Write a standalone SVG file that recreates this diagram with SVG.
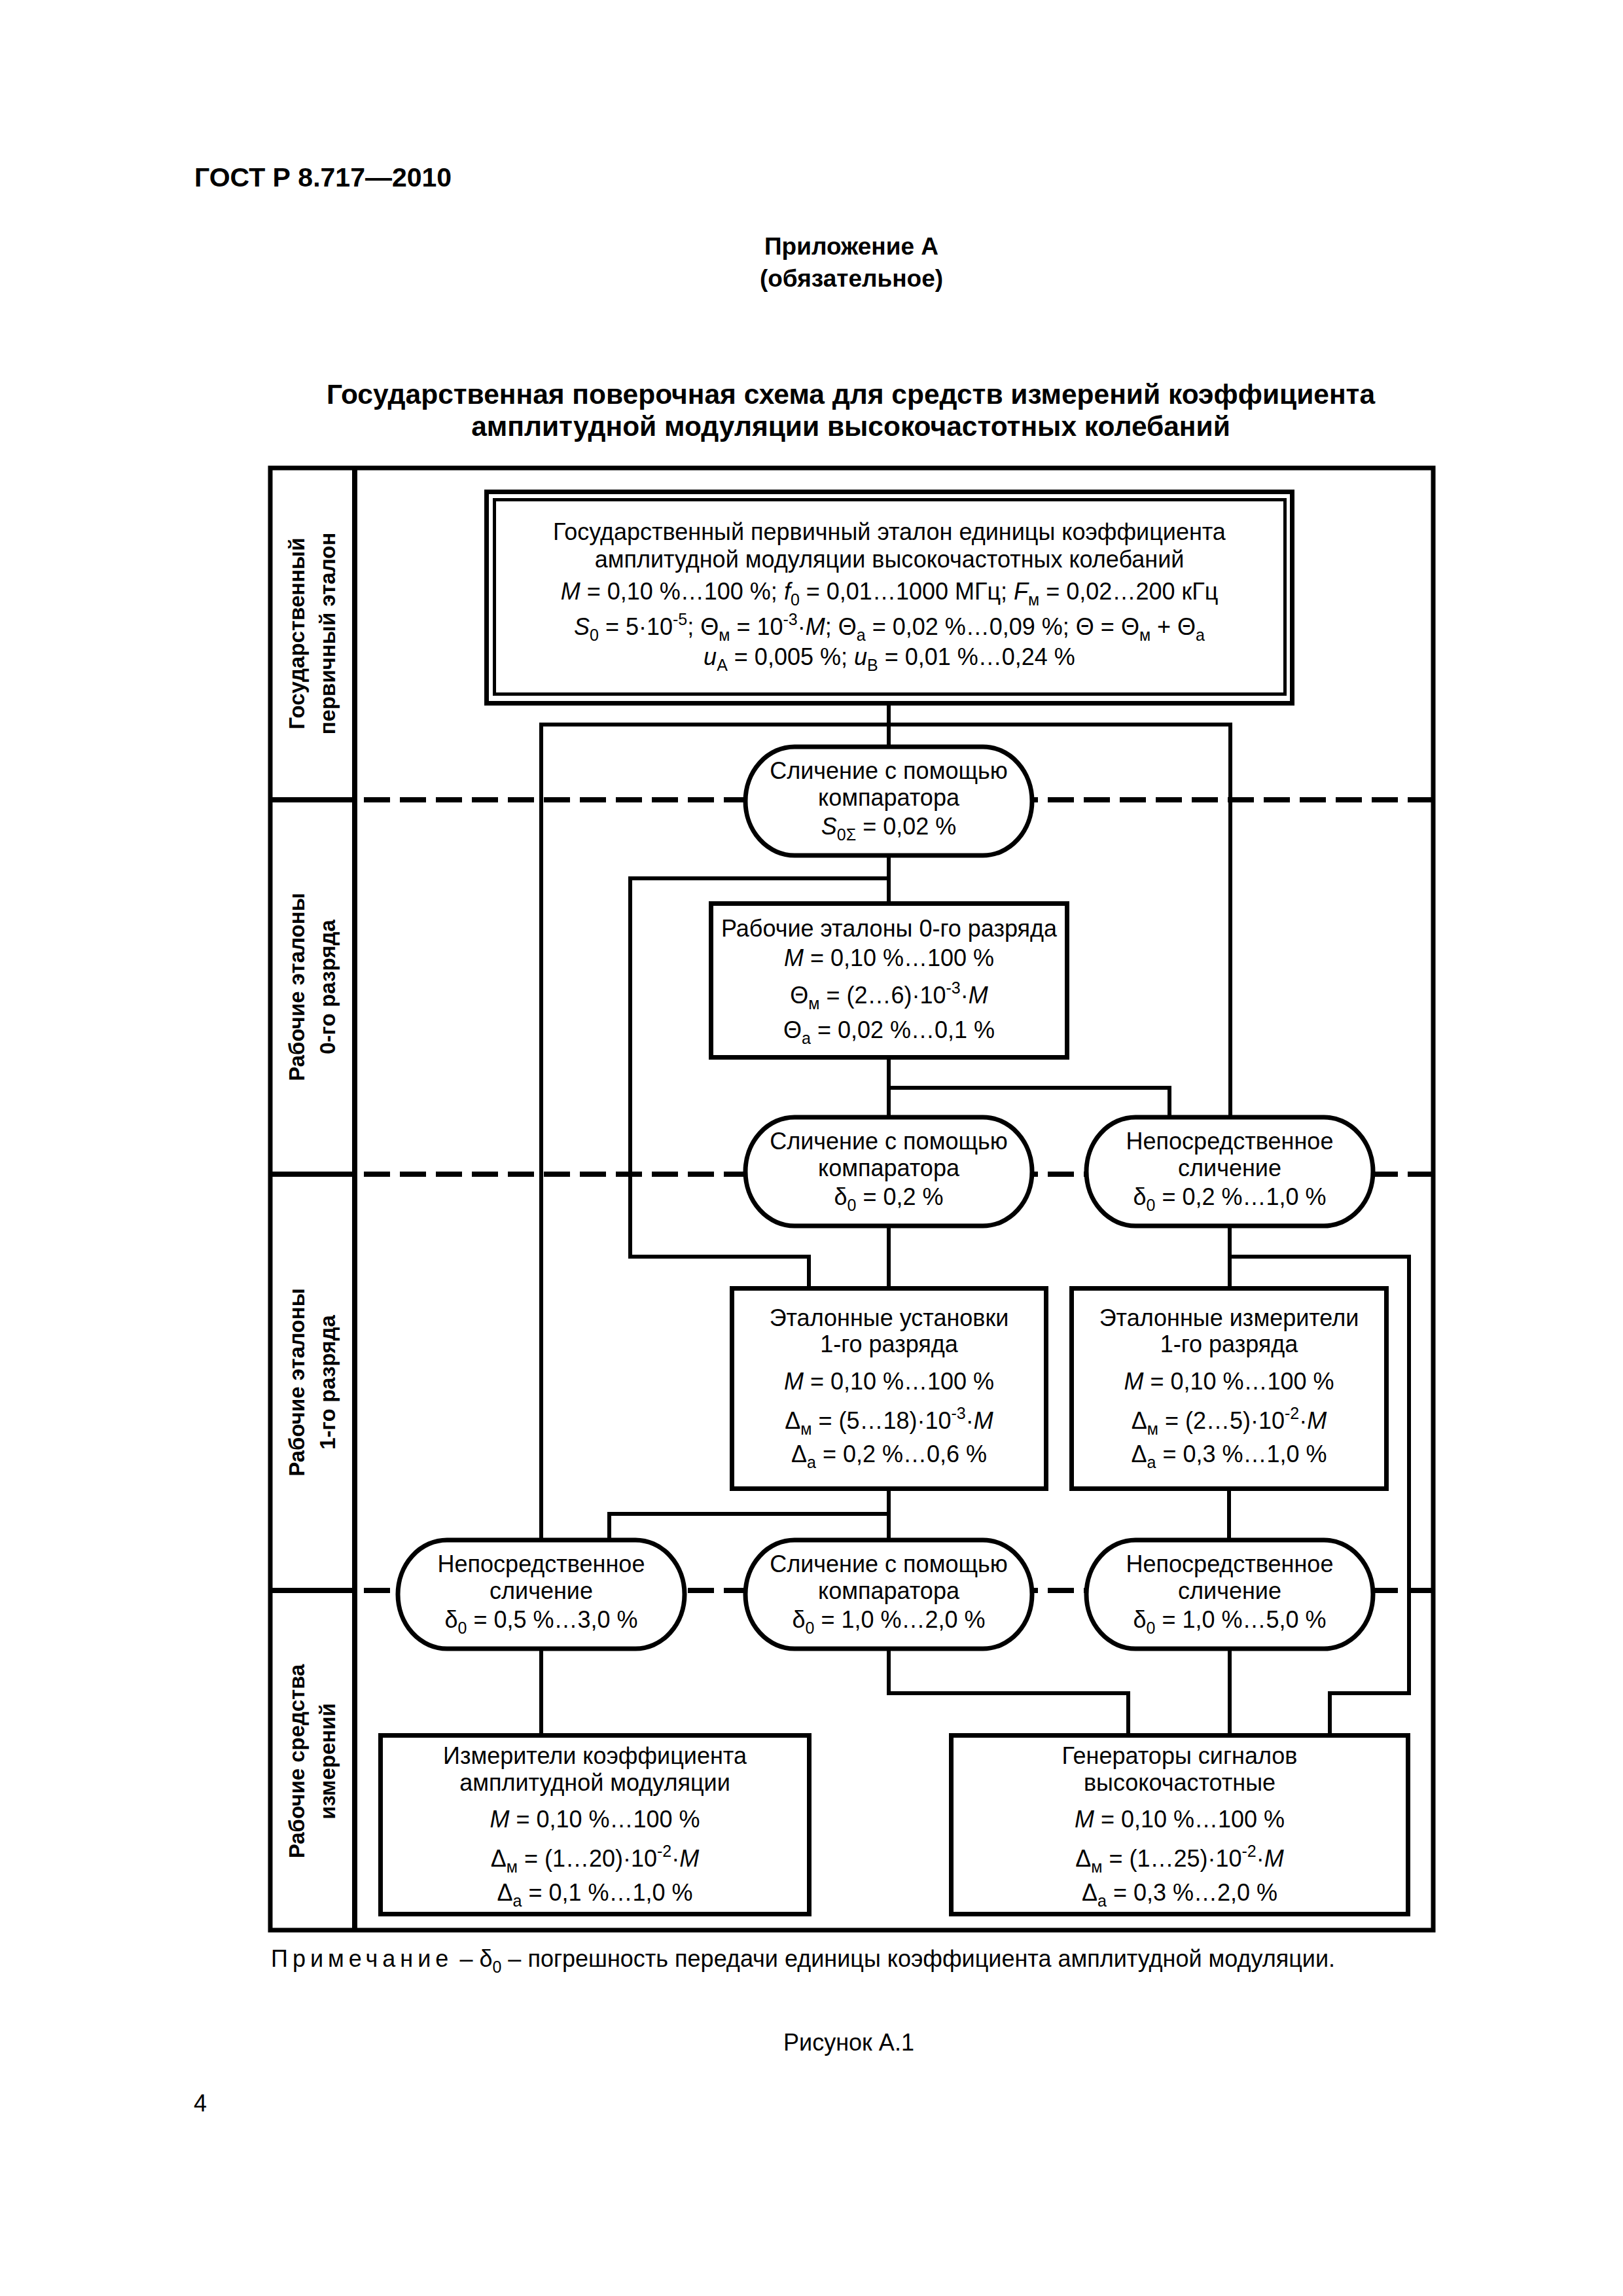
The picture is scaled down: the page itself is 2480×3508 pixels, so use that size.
<svg xmlns="http://www.w3.org/2000/svg" width="2480" height="3508" viewBox="0 0 2480 3508">
<style>
text{font-family:"Liberation Sans",Arial,Helvetica,sans-serif;fill:#000}
.t{font-size:36px;text-anchor:middle}
.s{font-size:25px}
.i{font-style:italic}
.lab{font-size:33px;font-weight:bold;text-anchor:middle}
.hd{font-weight:bold}
.frame{fill:none;stroke:#000;stroke-width:7}
.div{stroke:#000;stroke-width:8;fill:none}
.dash{stroke:#000;stroke-width:8;fill:none;stroke-dasharray:40 15}
.con{stroke:#000;stroke-width:6;fill:none;stroke-linecap:square}
.box{fill:#fff;stroke:#000;stroke-width:7}
.ov{fill:#fff;stroke:#000;stroke-width:7}
</style>
<rect width="2480" height="3508" fill="#fff"/>
<g id="header">
<text x="297" y="285" class="hd" font-size="41">ГОСТ Р 8.717—2010</text>
<text x="1301" y="389" class="hd" font-size="37" text-anchor="middle">Приложение А</text>
<text x="1301" y="438" class="hd" font-size="37" text-anchor="middle">(обязательное)</text>
<text x="1300" y="617" class="hd" font-size="42.5" text-anchor="middle">Государственная поверочная схема для средств измерений коэффициента</text>
<text x="1300" y="666" class="hd" font-size="42.5" text-anchor="middle">амплитудной модуляции высокочастотных колебаний</text>
</g>
<g id="frame">
<rect class="frame" x="413" y="715" width="1777" height="2234"/>
<line class="div" x1="542" y1="715" x2="542" y2="2949"/>
<line class="div" x1="413" y1="1222" x2="542" y2="1222"/>
<line class="div" x1="413" y1="1794" x2="542" y2="1794"/>
<line class="div" x1="413" y1="2430" x2="542" y2="2430"/>
<line class="dash" x1="556" y1="1222" x2="2190" y2="1222"/>
<line class="dash" x1="556" y1="1794" x2="2190" y2="1794"/>
<line class="dash" x1="556" y1="2430" x2="2190" y2="2430"/>
</g>
<g id="row-labels">
<g transform="translate(477,968) rotate(-90)"><text class="lab" x="0" y="-12">Государственный</text><text class="lab" x="0" y="35">первичный эталон</text></g>
<g transform="translate(477,1508) rotate(-90)"><text class="lab" x="0" y="-12">Рабочие эталоны</text><text class="lab" x="0" y="35">0-го разряда</text></g>
<g transform="translate(477,2112) rotate(-90)"><text class="lab" x="0" y="-12">Рабочие эталоны</text><text class="lab" x="0" y="35">1-го разряда</text></g>
<g transform="translate(477,2691) rotate(-90)"><text class="lab" x="0" y="-12">Рабочие средства</text><text class="lab" x="0" y="35">измерений</text></g>
</g>
<g id="connectors">
<path class="con" d="M1358,1078 V1141"/>
<path class="con" d="M827,2353 V1107 H1880 V1707"/>
<path class="con" d="M1358,1307 V1380"/>
<path class="con" d="M1358,1342 H963 V1920 H1236 V1968"/>
<path class="con" d="M1358,1616 V1707"/>
<path class="con" d="M1358,1662 H1787 V1707"/>
<path class="con" d="M1358,1873 V1968"/>
<path class="con" d="M1879,1873 V1968"/>
<path class="con" d="M1879,1920 H2153 V2587 H2032 V2651"/>
<path class="con" d="M1358,2275 V2353"/>
<path class="con" d="M1358,2313 H931 V2353"/>
<path class="con" d="M1878,2275 V2353"/>
<path class="con" d="M827,2519 V2651"/>
<path class="con" d="M1358,2519 V2587 H1724 V2651"/>
<path class="con" d="M1879,2519 V2651"/>
</g>
<g id="primary-standard">
<rect x="743.5" y="751.5" width="1231" height="323" fill="#fff" stroke="#000" stroke-width="7"/>
<rect x="755.5" y="763.5" width="1208" height="297" fill="none" stroke="#000" stroke-width="5"/>
<text class="t" x="1359" y="825">Государственный первичный эталон единицы коэффициента</text>
<text class="t" x="1359" y="867">амплитудной модуляции высокочастотных колебаний</text>
<text class="t" x="1359" y="916"><tspan class="i">M</tspan> = 0,10 %…100 %; <tspan class="i">f</tspan><tspan class="s" dy="9">0</tspan><tspan dy="-9"> = 0,01…1000 МГц; </tspan><tspan class="i">F</tspan><tspan class="s" dy="9">м</tspan><tspan dy="-9"> = 0,02…200 кГц</tspan></text>
<text class="t" x="1359" y="970"><tspan class="i">S</tspan><tspan class="s" dy="9">0</tspan><tspan dy="-9"> = 5·10</tspan><tspan class="s" dy="-15">-5</tspan><tspan dy="15">; Θ</tspan><tspan class="s" dy="9">м</tspan><tspan dy="-9"> = 10</tspan><tspan class="s" dy="-15">-3</tspan><tspan dy="15">·</tspan><tspan class="i">M</tspan><tspan>; Θ</tspan><tspan class="s" dy="9">а</tspan><tspan dy="-9"> = 0,02 %…0,09 %; Θ = Θ</tspan><tspan class="s" dy="9">м</tspan><tspan dy="-9"> + Θ</tspan><tspan class="s" dy="9">а</tspan></text>
<text class="t" x="1359" y="1016"><tspan class="i">u</tspan><tspan class="s" dy="9">A</tspan><tspan dy="-9"> = 0,005 %; </tspan><tspan class="i">u</tspan><tspan class="s" dy="9">B</tspan><tspan dy="-9"> = 0,01 %…0,24 %</tspan></text>
</g>
<g id="comp-1">
<rect class="ov" x="1139" y="1141" width="438" height="166" rx="75" ry="83"/>
<text class="t" x="1358" y="1190">Сличение с помощью</text>
<text class="t" x="1358" y="1231">компаратора</text>
<text class="t" x="1358" y="1275"><tspan class="i">S</tspan><tspan class="s" dy="9">0Σ</tspan><tspan dy="-9"> = 0,02 %</tspan></text>
</g>
<g id="ws-0">
<rect class="box" x="1086.5" y="1380.5" width="544" height="235"/>
<text class="t" x="1358.5" y="1431">Рабочие эталоны 0-го разряда</text>
<text class="t" x="1358.5" y="1476"><tspan class="i">M</tspan> = 0,10 %…100 %</text>
<text class="t" x="1358.5" y="1533">Θ<tspan class="s" dy="9">м</tspan><tspan dy="-9"> = (2…6)·10</tspan><tspan class="s" dy="-15">-3</tspan><tspan dy="15">·</tspan><tspan class="i">M</tspan></text>
<text class="t" x="1358.5" y="1586">Θ<tspan class="s" dy="9">а</tspan><tspan dy="-9"> = 0,02 %…0,1 %</tspan></text>
</g>
<g id="comp-2">
<rect class="ov" x="1139" y="1707" width="438" height="166" rx="75" ry="83"/>
<text class="t" x="1358" y="1756">Сличение с помощью</text>
<text class="t" x="1358" y="1797">компаратора</text>
<text class="t" x="1358" y="1841">δ<tspan class="s" dy="9">0</tspan><tspan dy="-9"> = 0,2 %</tspan></text>
</g>
<g id="direct-1">
<rect class="ov" x="1660" y="1707" width="438" height="166" rx="75" ry="83"/>
<text class="t" x="1879" y="1756">Непосредственное</text>
<text class="t" x="1879" y="1797">сличение</text>
<text class="t" x="1879" y="1841">δ<tspan class="s" dy="9">0</tspan><tspan dy="-9"> = 0,2 %…1,0 %</tspan></text>
</g>
<g id="ws-1-setups">
<rect class="box" x="1118.5" y="1968.5" width="480" height="306"/>
<text class="t" x="1358.5" y="2026">Эталонные установки</text>
<text class="t" x="1358.5" y="2066">1-го разряда</text>
<text class="t" x="1358.5" y="2123"><tspan class="i">M</tspan> = 0,10 %…100 %</text>
<text class="t" x="1358.5" y="2183">Δ<tspan class="s" dy="9">м</tspan><tspan dy="-9"> = (5…18)·10</tspan><tspan class="s" dy="-15">-3</tspan><tspan dy="15">·</tspan><tspan class="i">M</tspan></text>
<text class="t" x="1358.5" y="2234">Δ<tspan class="s" dy="9">а</tspan><tspan dy="-9"> = 0,2 %…0,6 %</tspan></text>
</g>
<g id="ws-1-meters">
<rect class="box" x="1637.5" y="1968.5" width="481" height="306"/>
<text class="t" x="1878" y="2026">Эталонные измерители</text>
<text class="t" x="1878" y="2066">1-го разряда</text>
<text class="t" x="1878" y="2123"><tspan class="i">M</tspan> = 0,10 %…100 %</text>
<text class="t" x="1878" y="2183">Δ<tspan class="s" dy="9">м</tspan><tspan dy="-9"> = (2…5)·10</tspan><tspan class="s" dy="-15">-2</tspan><tspan dy="15">·</tspan><tspan class="i">M</tspan></text>
<text class="t" x="1878" y="2234">Δ<tspan class="s" dy="9">а</tspan><tspan dy="-9"> = 0,3 %…1,0 %</tspan></text>
</g>
<g id="direct-2">
<rect class="ov" x="608" y="2353" width="438" height="166" rx="75" ry="83"/>
<text class="t" x="827" y="2402">Непосредственное</text>
<text class="t" x="827" y="2443">сличение</text>
<text class="t" x="827" y="2487">δ<tspan class="s" dy="9">0</tspan><tspan dy="-9"> = 0,5 %…3,0 %</tspan></text>
</g>
<g id="comp-3">
<rect class="ov" x="1139" y="2353" width="438" height="166" rx="75" ry="83"/>
<text class="t" x="1358" y="2402">Сличение с помощью</text>
<text class="t" x="1358" y="2443">компаратора</text>
<text class="t" x="1358" y="2487">δ<tspan class="s" dy="9">0</tspan><tspan dy="-9"> = 1,0 %…2,0 %</tspan></text>
</g>
<g id="direct-3">
<rect class="ov" x="1660" y="2353" width="438" height="166" rx="75" ry="83"/>
<text class="t" x="1879" y="2402">Непосредственное</text>
<text class="t" x="1879" y="2443">сличение</text>
<text class="t" x="1879" y="2487">δ<tspan class="s" dy="9">0</tspan><tspan dy="-9"> = 1,0 %…5,0 %</tspan></text>
</g>
<g id="wm-meters">
<rect class="box" x="581.5" y="2651.5" width="655" height="273"/>
<text class="t" x="909" y="2695">Измерители коэффициента</text>
<text class="t" x="909" y="2736">амплитудной модуляции</text>
<text class="t" x="909" y="2792"><tspan class="i">M</tspan> = 0,10 %…100 %</text>
<text class="t" x="909" y="2852">Δ<tspan class="s" dy="9">м</tspan><tspan dy="-9"> = (1…20)·10</tspan><tspan class="s" dy="-15">-2</tspan><tspan dy="15">·</tspan><tspan class="i">M</tspan></text>
<text class="t" x="909" y="2904">Δ<tspan class="s" dy="9">а</tspan><tspan dy="-9"> = 0,1 %…1,0 %</tspan></text>
</g>
<g id="wm-generators">
<rect class="box" x="1453.5" y="2651.5" width="698" height="273"/>
<text class="t" x="1802.5" y="2695">Генераторы сигналов</text>
<text class="t" x="1802.5" y="2736">высокочастотные</text>
<text class="t" x="1802.5" y="2792"><tspan class="i">M</tspan> = 0,10 %…100 %</text>
<text class="t" x="1802.5" y="2852">Δ<tspan class="s" dy="9">м</tspan><tspan dy="-9"> = (1…25)·10</tspan><tspan class="s" dy="-15">-2</tspan><tspan dy="15">·</tspan><tspan class="i">M</tspan></text>
<text class="t" x="1802.5" y="2904">Δ<tspan class="s" dy="9">а</tspan><tspan dy="-9"> = 0,3 %…2,0 %</tspan></text>
</g>
<g id="footer">
<text x="414" y="3005" font-size="36"><tspan letter-spacing="7">Примечание</tspan> – δ<tspan class="s" dy="9">0</tspan><tspan dy="-9"> – погрешность передачи единицы коэффициента амплитудной модуляции.</tspan></text>
<text x="1297" y="3133" font-size="36" text-anchor="middle">Рисунок А.1</text>
<text x="296" y="3226" font-size="36">4</text>
</g>
</svg>
